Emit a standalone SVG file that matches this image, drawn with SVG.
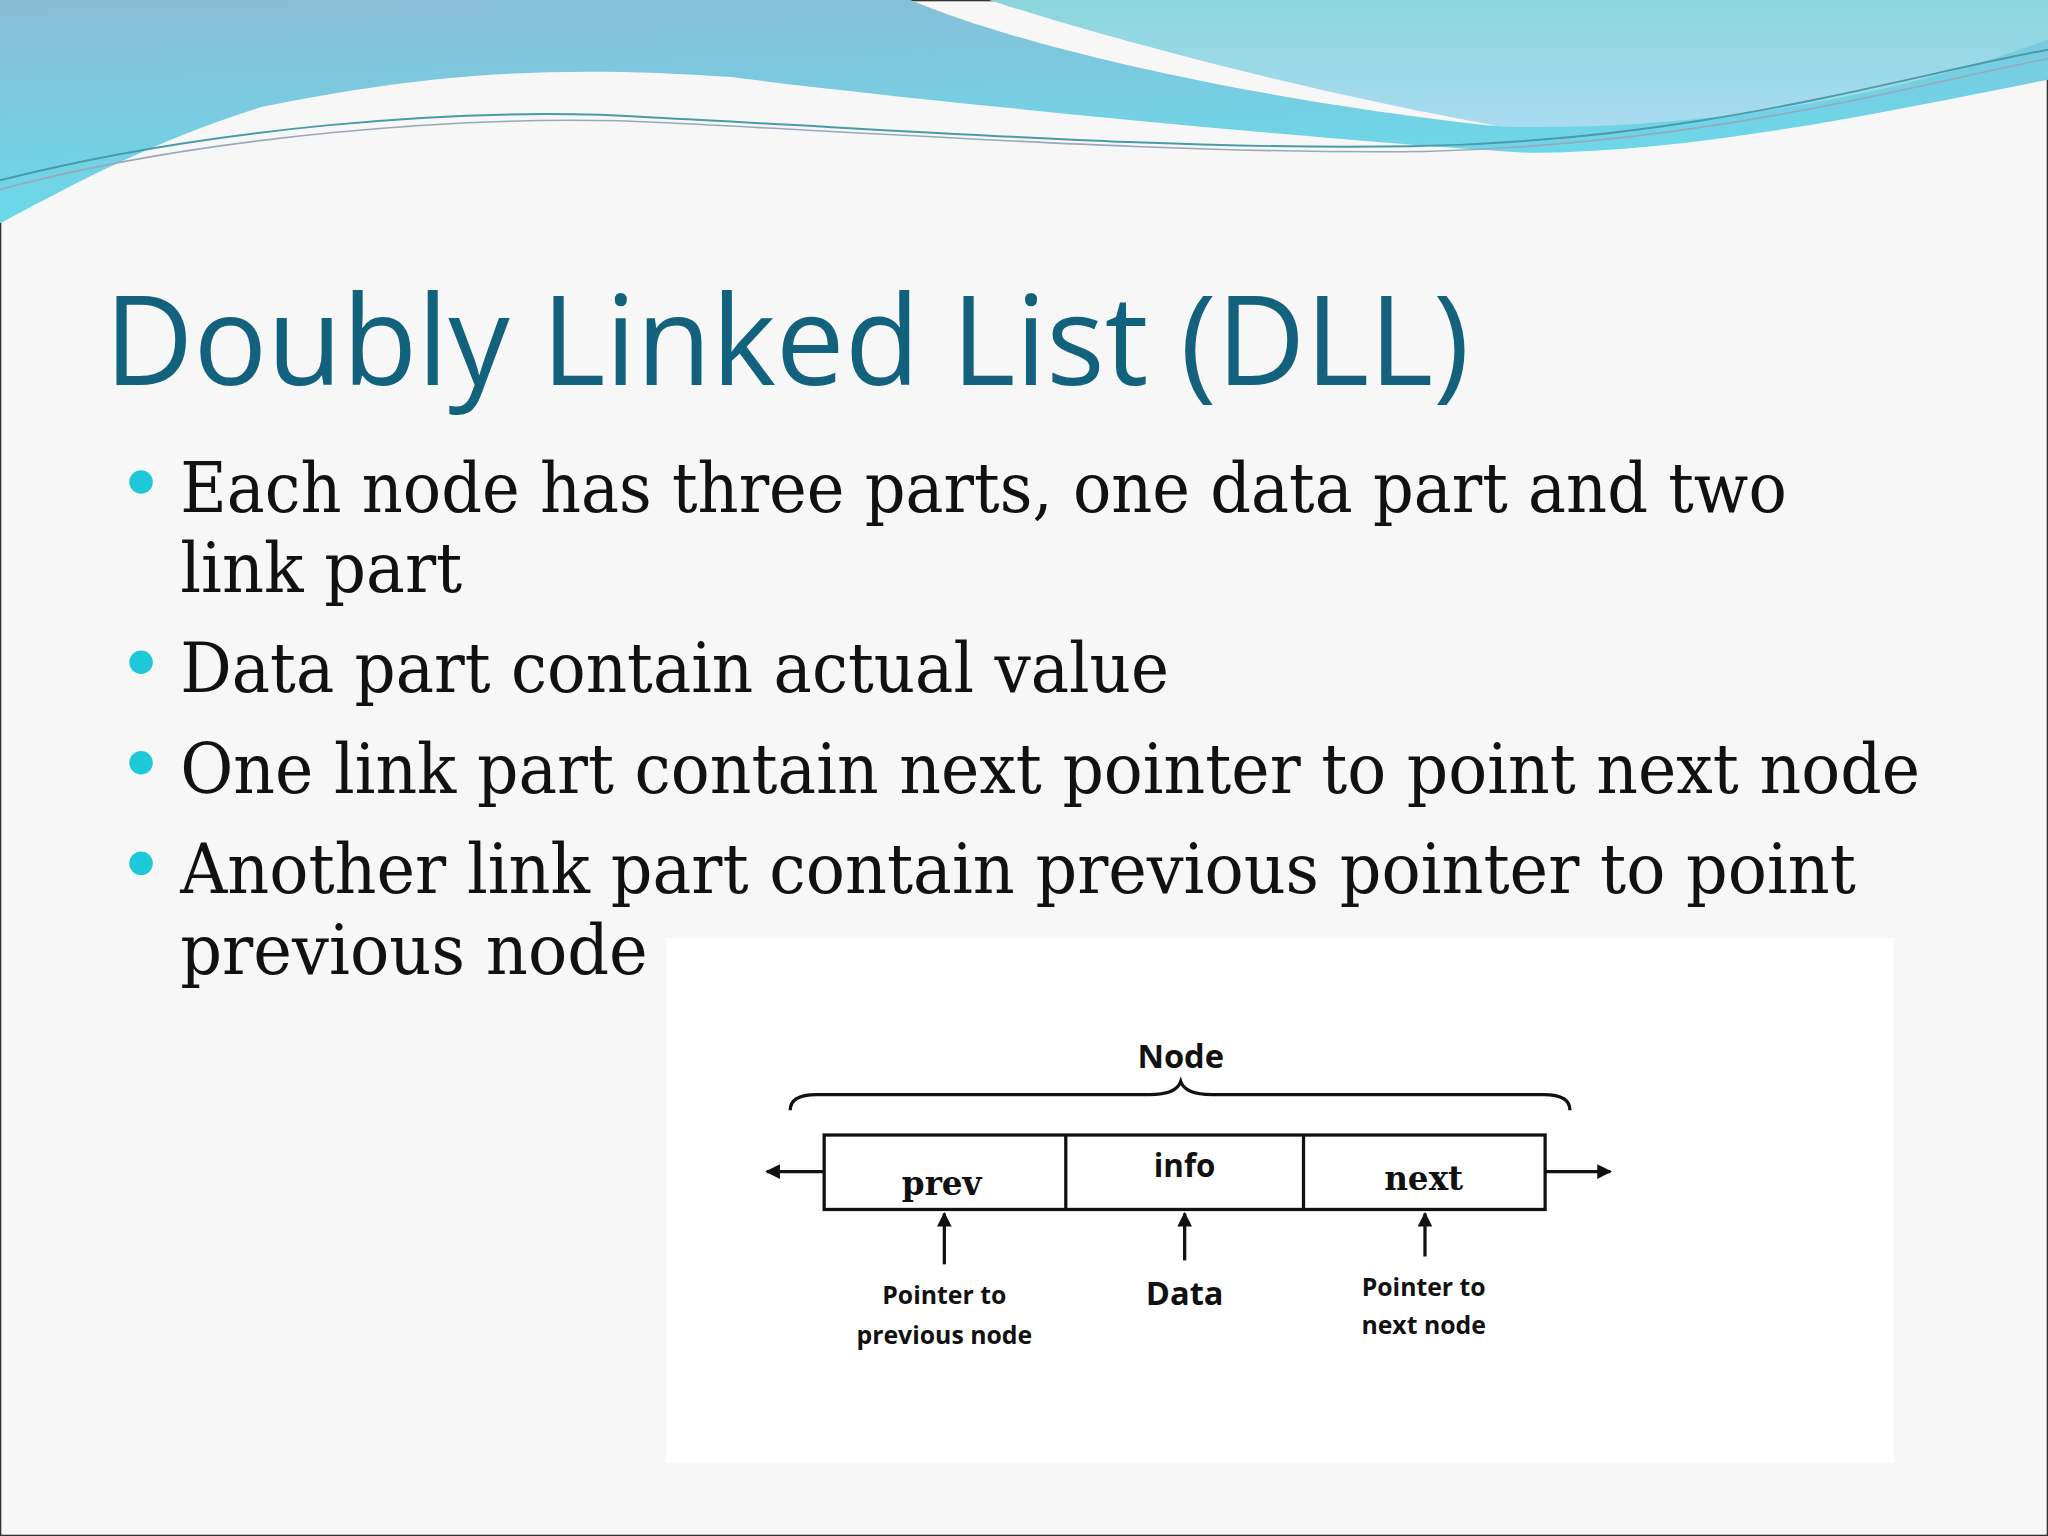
<svg xmlns="http://www.w3.org/2000/svg" width="2048" height="1536" viewBox="0 0 2048 1536">
<defs>
<linearGradient id="gA" x1="0" y1="0" x2="0.3" y2="1"><stop offset="0" stop-color="#8bbcd6"/><stop offset="1" stop-color="#66dcec"/></linearGradient>
<linearGradient id="gB" x1="0" y1="0" x2="0" y2="1"><stop offset="0" stop-color="#8ad6dc"/><stop offset="1" stop-color="#a9dbf0"/></linearGradient>
<marker id="ah" viewBox="0 0 10 10" refX="9" refY="5" markerWidth="4.5" markerHeight="4.5" orient="auto"><path d="M0,0 L10,5 L0,10 Z" fill="#111"/></marker>
<style>
.bul{font-family:"DejaVu Serif","Liberation Serif",serif;font-size:53px;fill:#111}
.lbl{font-family:"Open Sans","DejaVu Sans",sans-serif;font-weight:bold;fill:#111;text-anchor:middle}
.ser{font-family:"DejaVu Serif","Liberation Serif",serif;font-weight:bold;fill:#111;text-anchor:middle;font-size:25px}
.ln{stroke:#111;stroke-width:2.5;fill:none}
</style>
</defs>
<g transform="scale(1.30612)">
<rect x="0" y="0" width="1568" height="1176" fill="#f7f7f7" stroke="#333" stroke-width="2"/>
<g id="waves">
<path d="M0,0 L697,0 C780,35 950,75 1140,96 C1300,100 1450,60 1568,20 L1568,61 C1450,84 1300,117 1170,117 C1040,110 700,77 560,59 C430,50 330,55 200,82 C110,110 40,150 0,171 Z" fill="url(#gA)"/>
<path d="M757,0 L1568,0 L1568,30 C1450,75 1300,100 1150,97 C1000,70 850,30 757,0 Z" fill="url(#gB)"/>
<path d="M0,138 C150,100 350,80 500,90 C700,100 900,115 1080,112 C1300,108 1450,60 1568,38" fill="none" stroke="#4a9aa8" stroke-width="1.5"/>
<path d="M0,145 C150,105 360,86 510,94 C710,104 910,118 1090,116 C1310,110 1460,66 1568,45" fill="none" stroke="#9aa8b8" stroke-width="1.2"/>
</g>
<text x="80" y="295" font-family="Open Sans, Noto Sans, sans-serif" font-size="96" fill="#12627e" textLength="1045" lengthAdjust="spacingAndGlyphs">Doubly Linked List (DLL)</text>
<g id="bullets" fill="#1ec8d8">
<circle cx="108" cy="369" r="9"/><circle cx="108" cy="507" r="9"/><circle cx="108" cy="584" r="9"/><circle cx="108" cy="661" r="9"/>
</g>
<text class="bul" x="138" y="392" textLength="1230" lengthAdjust="spacingAndGlyphs">Each node has three parts, one data part and two</text>
<text class="bul" x="138" y="453" textLength="216" lengthAdjust="spacingAndGlyphs">link part</text>
<text class="bul" x="138" y="530" textLength="757" lengthAdjust="spacingAndGlyphs">Data part contain actual value</text>
<text class="bul" x="138" y="607" textLength="1332" lengthAdjust="spacingAndGlyphs">One link part contain next pointer to point next node</text>
<text class="bul" x="138" y="684" textLength="1283" lengthAdjust="spacingAndGlyphs">Another link part contain previous pointer to point</text>
<text class="bul" x="138" y="746" textLength="358" lengthAdjust="spacingAndGlyphs">previous node</text>
<rect x="510" y="718" width="940" height="402" fill="#ffffff"/>
<g id="node">
<text class="lbl" x="904" y="818" font-size="25">Node</text>
<path class="ln" stroke-width="2" d="M605,850 C605,842 612,838 625,838 L880,838 C895,838 902,834 904,828 C906,834 913,838 928,838 L1182,838 C1195,838 1202,842 1202,850"/>
<rect class="ln" x="631" y="869" width="552" height="57"/>
<line class="ln" x1="816" y1="869" x2="816" y2="926"/>
<line class="ln" x1="998" y1="869" x2="998" y2="926"/>
<text class="ser" x="721" y="915">prev</text>
<text class="lbl" x="907" y="901" font-size="24">info</text>
<text class="ser" x="1090" y="911">next</text>
</g>
<g id="connectors">
<line class="ln" x1="631" y1="897" x2="587" y2="897" marker-end="url(#ah)"/>
<line class="ln" x1="1183" y1="897" x2="1233" y2="897" marker-end="url(#ah)"/>
<line class="ln" x1="723" y1="968" x2="723" y2="929" marker-end="url(#ah)"/>
<line class="ln" x1="907" y1="965" x2="907" y2="929" marker-end="url(#ah)"/>
<line class="ln" x1="1091" y1="962" x2="1091" y2="929" marker-end="url(#ah)"/>
</g>
<g id="labels">
<text class="lbl" x="723" y="998" font-size="19">Pointer to</text>
<text class="lbl" x="723" y="1029" font-size="19">previous node</text>
<text class="lbl" x="907" y="999" font-size="25">Data</text>
<text class="lbl" x="1090" y="992" font-size="19">Pointer to</text>
<text class="lbl" x="1090" y="1021" font-size="19">next node</text>
</g>
</g>
</svg>
